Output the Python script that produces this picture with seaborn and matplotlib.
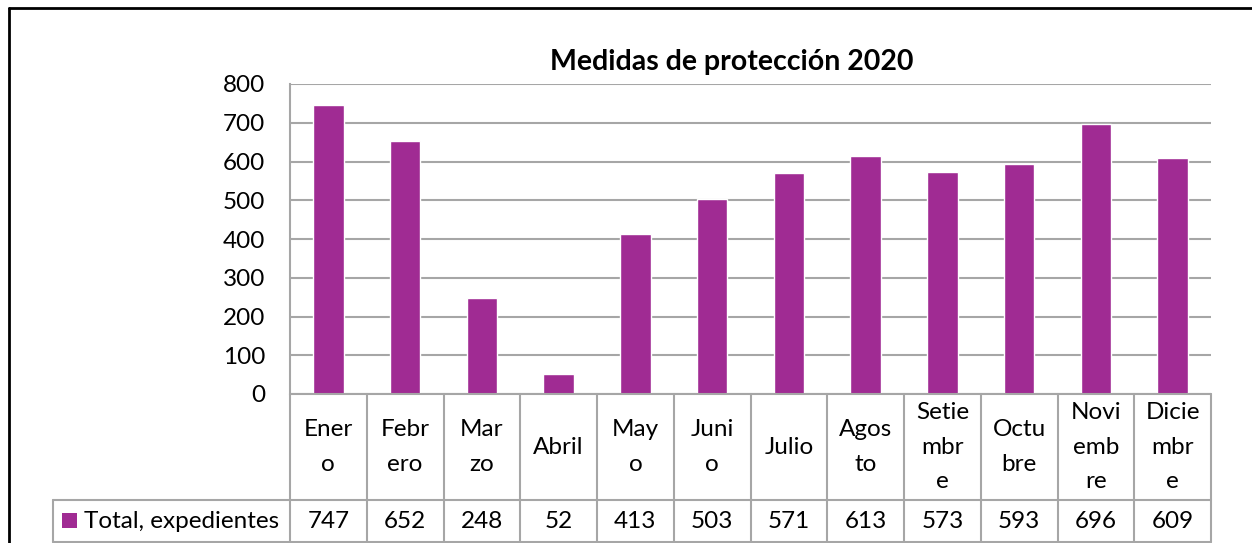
import numpy as np
import matplotlib
matplotlib.use("Agg")
import matplotlib.pyplot as plt
import matplotlib.transforms as mtransforms
from matplotlib.lines import Line2D
from matplotlib.patches import Rectangle
import seaborn as sns

# data
months = ["Enero", "Febrero", "Marzo", "Abril", "Mayo", "Junio", "Julio",
          "Agosto", "Setiembre", "Octubre", "Noviembre", "Diciembre"]
month_labels = ["Ener\no", "Febr\nero", "Mar\nzo", "Abril", "May\no", "Juni\no",
                "Julio", "Agos\nto", "Setie\nmbr\ne", "Octu\nbre", "Novi\nemb\nre",
                "Dicie\nmbr\ne"]
totals = [747, 652, 248, 52, 413, 503, 571, 613, 573, 593, 696, 609]
series_name = "Total, expedientes"
title = "Medidas de protección 2020"

W, H = 1252, 543
BAR = "#A02B93"
GRID = "#A6A6A6"

sns.set_theme(style="white")
plt.rcParams["font.family"] = ["Lato", "DejaVu Sans"]
FS = 17.5


def fx(px):
    return px / W


def fy(py):
    return 1 - py / H


fig = plt.figure(figsize=(W / 100, H / 100), dpi=100)
left, right, top, bottom = 290, 1211, 84, 394
ax = fig.add_axes([fx(left), fy(bottom), fx(right - left), (bottom - top) / H])

sns.barplot(x=months, y=totals, color=BAR, width=0.4, saturation=1, ax=ax)
ax.set_ylim(0, 800)
ax.set_xlim(-0.5, len(months) - 0.5)
ax.set_yticks(range(0, 801, 100))
ax.yaxis.grid(True, color=GRID, linewidth=1.5)
ax.set_axisbelow(True)
ax.set_xticks([])
ax.set_xlabel("")
ax.set_ylabel("")
ax.tick_params(axis="y", labelsize=FS, length=0, pad=18, labelcolor="black")
for s in ["top", "right", "bottom"]:
    ax.spines[s].set_visible(False)
ax.spines["left"].set_color(GRID)
ax.spines["left"].set_linewidth(1.5)

# data table below the axis
blend = mtransforms.blended_transform_factory(ax.transData, fig.transFigure)
row1_top, row1_bot, row2_bot = 394, 500, 542
line_kw = dict(color=GRID, linewidth=1.5)
for i in range(len(months) + 1):
    xb = i - 0.5
    fig.add_artist(Line2D([xb, xb], [fy(row1_top), fy(row2_bot)], transform=blend, **line_kw))
fig.add_artist(Line2D([-0.5, len(months) - 0.5], [fy(row1_top), fy(row1_top)], transform=blend, **line_kw))
fig.add_artist(Line2D([fx(53), fx(1211)], [fy(row1_bot), fy(row1_bot)], transform=fig.transFigure, **line_kw))
fig.add_artist(Line2D([fx(53), fx(1211)], [fy(row2_bot), fy(row2_bot)], transform=fig.transFigure, **line_kw))
fig.add_artist(Line2D([fx(53), fx(53)], [fy(row1_bot), fy(row2_bot)], transform=fig.transFigure, **line_kw))

for i, (lab, v) in enumerate(zip(month_labels, totals)):
    fig.text(i, fy((row1_top + row1_bot) / 2), lab, transform=blend, ha="center", va="center",
             fontsize=FS, linespacing=1.8, color="black")
    fig.text(i, fy((row1_bot + row2_bot) / 2), str(v), transform=blend, ha="center", va="center",
             fontsize=FS, color="black")

fig.add_artist(Rectangle((fx(62), fy(528)), fx(15), 15 / H, transform=fig.transFigure,
                         facecolor=BAR, edgecolor="none"))
fig.text(fx(84), fy(521), series_name, ha="left", va="center", fontsize=FS, color="black")

fig.text(fx(732), fy(62), title, ha="center", va="center", fontsize=20.5, fontweight="bold", color="black")

# outer chart border
fig.add_artist(Line2D([fx(9), fx(9)], [fy(8), 0], transform=fig.transFigure, color="black", linewidth=2))
fig.add_artist(Line2D([fx(9), 1], [fy(8), fy(8)], transform=fig.transFigure, color="black", linewidth=2))

fig.savefig("out.png", dpi=100, facecolor="white")
